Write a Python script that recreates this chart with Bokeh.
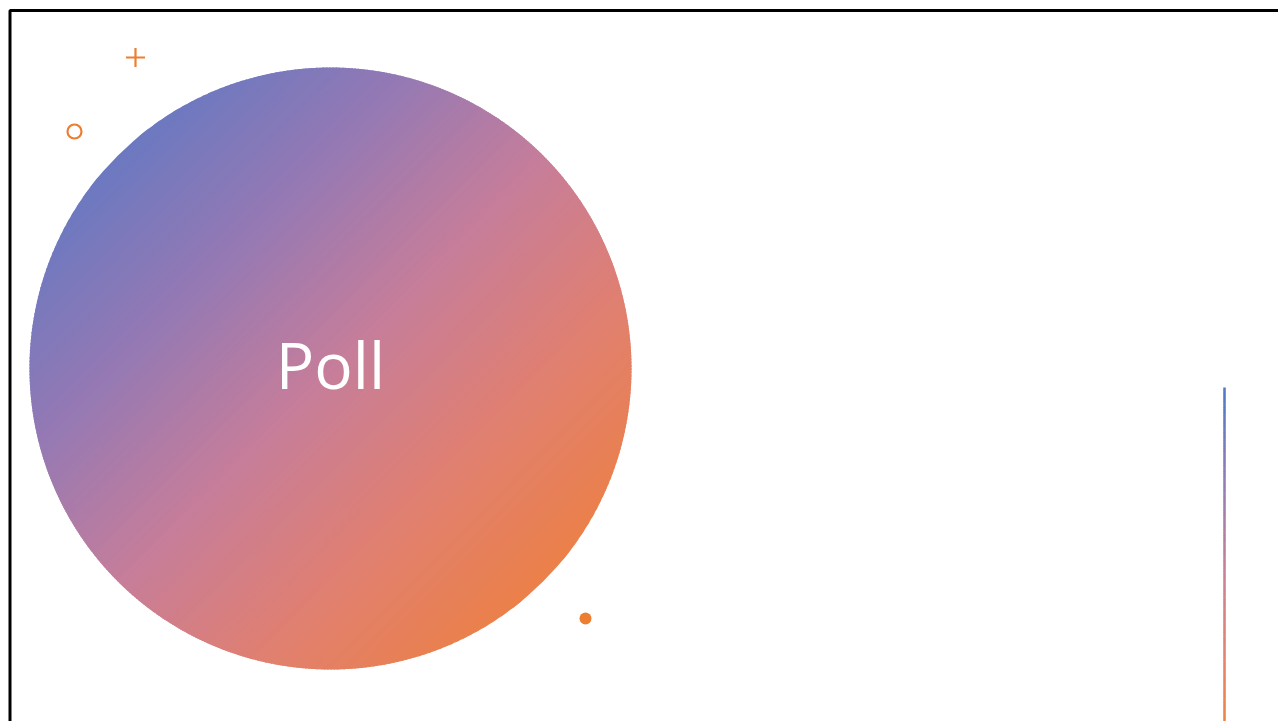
import numpy as np
from bokeh.plotting import figure
from bokeh.models import Range1d
from bokeh.core.properties import value
from bokeh.embed import file_html
from bokeh.resources import INLINE

# ---- content (page coordinates, px, y downwards) ----
title_text = ["Poll"]
circle_center = [330, 368]
circle_radius = 301
grad_stops = [0.0, 0.25, 0.5, 0.75, 1.0]
grad_r = [108, 150, 198, 224, 236]
grad_g = [121, 122, 126, 128, 128]
grad_b = [193, 180, 155, 115, 74]
line_x = [1224]
line_y = [387, 721]
line_stops = [0.0, 0.3, 0.55, 0.8, 1.0]
line_r = [74, 150, 200, 228, 240]
line_g = [122, 124, 128, 130, 132]
line_b = [200, 180, 150, 110, 62]
plus_xy = [135, 57]
ring_xy = [74, 131]
dot_xy = [585, 618]
accent = "#ED7D31"

W, H = 1278, 721
p = figure(width=W, height=H, x_range=Range1d(0, W), y_range=Range1d(H, 0),
           output_backend="svg", toolbar_location=None,
           min_border_left=0, min_border_top=0, min_border_right=0, min_border_bottom=0)
p.axis.visible = False
p.grid.visible = False
p.outline_line_color = None
p.background_fill_color = "white"
p.border_fill_color = "white"

# slide frame (only the top and left edges are visible in the window)
p.line(x=[9.5, 9.5, W + 10], y=[H + 10, 10, 10], line_color="black", line_width=3)

# gradient circle built from thin diagonal bands
N = 260
cx, cy = circle_center
R = circle_radius
d = np.array([1.0, 1.0]) / np.sqrt(2)
e = np.array([1.0, -1.0]) / np.sqrt(2)
xs, ys, cols = [], [], []
for i in range(N):
    u0 = max(-R, -R + 2 * R * i / N - 0.7)
    u1 = min(R, -R + 2 * R * (i + 1) / N + 0.7)
    us = np.linspace(u0, u1, 5)
    v = np.sqrt(np.clip(R * R - us * us, 0, None))
    px_up = cx + us * d[0] + v * e[0]
    py_up = cy + us * d[1] + v * e[1]
    px_lo = cx + us[::-1] * d[0] - v[::-1] * e[0]
    py_lo = cy + us[::-1] * d[1] - v[::-1] * e[1]
    xs.append(list(np.concatenate([px_up, px_lo])))
    ys.append(list(np.concatenate([py_up, py_lo])))
    s = (i + 0.5) / N
    r = np.interp(s, grad_stops, grad_r)
    g = np.interp(s, grad_stops, grad_g)
    b = np.interp(s, grad_stops, grad_b)
    cols.append("#%02x%02x%02x" % (int(r), int(g), int(b)))
p.patches(xs=xs, ys=ys, fill_color=cols, line_color=None)

p.text(x=[cx], y=[cy - 4], text=title_text, text_align="center", text_baseline="middle",
       text_color="white", text_font=value("Open Sans"), text_font_size="64px")

# gradient vertical line
M = 120
yy = np.linspace(line_y[0], line_y[1], M + 1)
seg_cols = []
for k in range(M):
    t = (k + 0.5) / M
    c = (np.interp(t, line_stops, line_r), np.interp(t, line_stops, line_g),
         np.interp(t, line_stops, line_b))
    seg_cols.append("#%02x%02x%02x" % tuple(int(v_) for v_ in c))
p.segment(x0=[line_x[0]] * M, y0=list(yy[:-1]), x1=[line_x[0]] * M, y1=list(yy[1:] + 0.5),
          line_color=seg_cols, line_width=2.5)

# decorations
p.scatter(x=[plus_xy[0]], y=[plus_xy[1]], marker="cross", size=19, line_color=accent, line_width=2.2)
p.scatter(x=[ring_xy[0]], y=[ring_xy[1]], marker="circle", size=14, fill_color=None,
          line_color=accent, line_width=2.2)
p.scatter(x=[dot_xy[0]], y=[dot_xy[1]], marker="circle", size=12, fill_color=accent, line_color=None)

open("out.html", "w").write(file_html(p, INLINE))
